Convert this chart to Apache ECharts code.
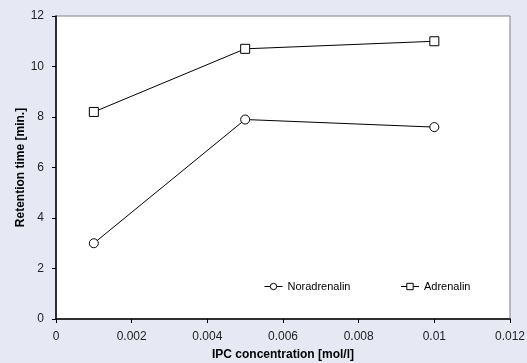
<!DOCTYPE html>
<html>
<head>
<meta charset="utf-8">
<script src="https://cdn.jsdelivr.net/npm/echarts@6/dist/echarts.min.js"></script>
<style>
  html, body { margin: 0; padding: 0; background: #e6e9f3; }
  #chart { width: 527px; height: 363px; }
</style>
</head>
<body>
<div id="chart"></div>
<script>
// data
var conc = [0.001, 0.005, 0.01];
var noradrenalin = [3.0, 7.9, 7.6];
var adrenalin = [8.2, 10.7, 11.0];

function pairs(xs, ys) {
    var out = [];
    for (var i = 0; i < xs.length; i++) out.push([xs[i], ys[i]]);
    return out;
}

var chart = echarts.init(document.getElementById('chart'));
var font = 'Liberation Sans, Arial, sans-serif';

chart.setOption({
    backgroundColor: '#e6e9f3',
    animation: false,
    textStyle: { fontFamily: font },
    grid: {
        left: 56, right: 17, top: 16, bottom: 44,
        outerBoundsMode: 'none',
        show: true, backgroundColor: '#fff', borderColor: '#808080', borderWidth: 1
    },
    legend: {
        left: 259, top: 276,
        itemWidth: 18, itemHeight: 8, itemGap: 50,
        lineStyle: { width: 1 },
        itemStyle: { borderWidth: 1 },
        textStyle: { fontSize: 11, color: '#000', fontFamily: font },
        data: ['Noradrenalin', 'Adrenalin']
    },
    xAxis: {
        type: 'value', min: 0, max: 0.012, interval: 0.002,
        name: 'IPC concentration [mol/l]', nameLocation: 'middle', nameGap: 30,
        nameMoveOverlap: false,
        nameTextStyle: { fontWeight: 'bold', fontSize: 12, color: '#000', fontFamily: font },
        axisLine: { show: true, lineStyle: { color: '#000', width: 1.5 } },
        axisTick: { show: true, length: 4, lineStyle: { color: '#000' } },
        axisLabel: { fontSize: 12, color: '#222', margin: 12, fontFamily: font },
        splitLine: { show: false }
    },
    yAxis: {
        type: 'value', min: 0, max: 12, interval: 2,
        name: 'Retention time [min.]', nameLocation: 'middle', nameGap: 29,
        nameMoveOverlap: false,
        nameTextStyle: { fontWeight: 'bold', fontSize: 12, color: '#000', fontFamily: font },
        axisLine: { show: true, lineStyle: { color: '#000', width: 1.5 } },
        axisTick: { show: true, length: 4, lineStyle: { color: '#000' } },
        axisLabel: { fontSize: 12, color: '#222', margin: 12, fontFamily: font },
        splitLine: { show: false }
    },
    series: [
        {
            name: 'Noradrenalin', type: 'line',
            data: pairs(conc, noradrenalin),
            symbol: 'circle', symbolSize: 9,
            lineStyle: { color: '#000', width: 1 },
            itemStyle: { color: '#fff', borderColor: '#000', borderWidth: 1 }
        },
        {
            name: 'Adrenalin', type: 'line',
            data: pairs(conc, adrenalin),
            symbol: 'rect', symbolSize: 9,
            lineStyle: { color: '#000', width: 1 },
            itemStyle: { color: '#fff', borderColor: '#000', borderWidth: 1 }
        }
    ]
});
</script>
</body>
</html>
